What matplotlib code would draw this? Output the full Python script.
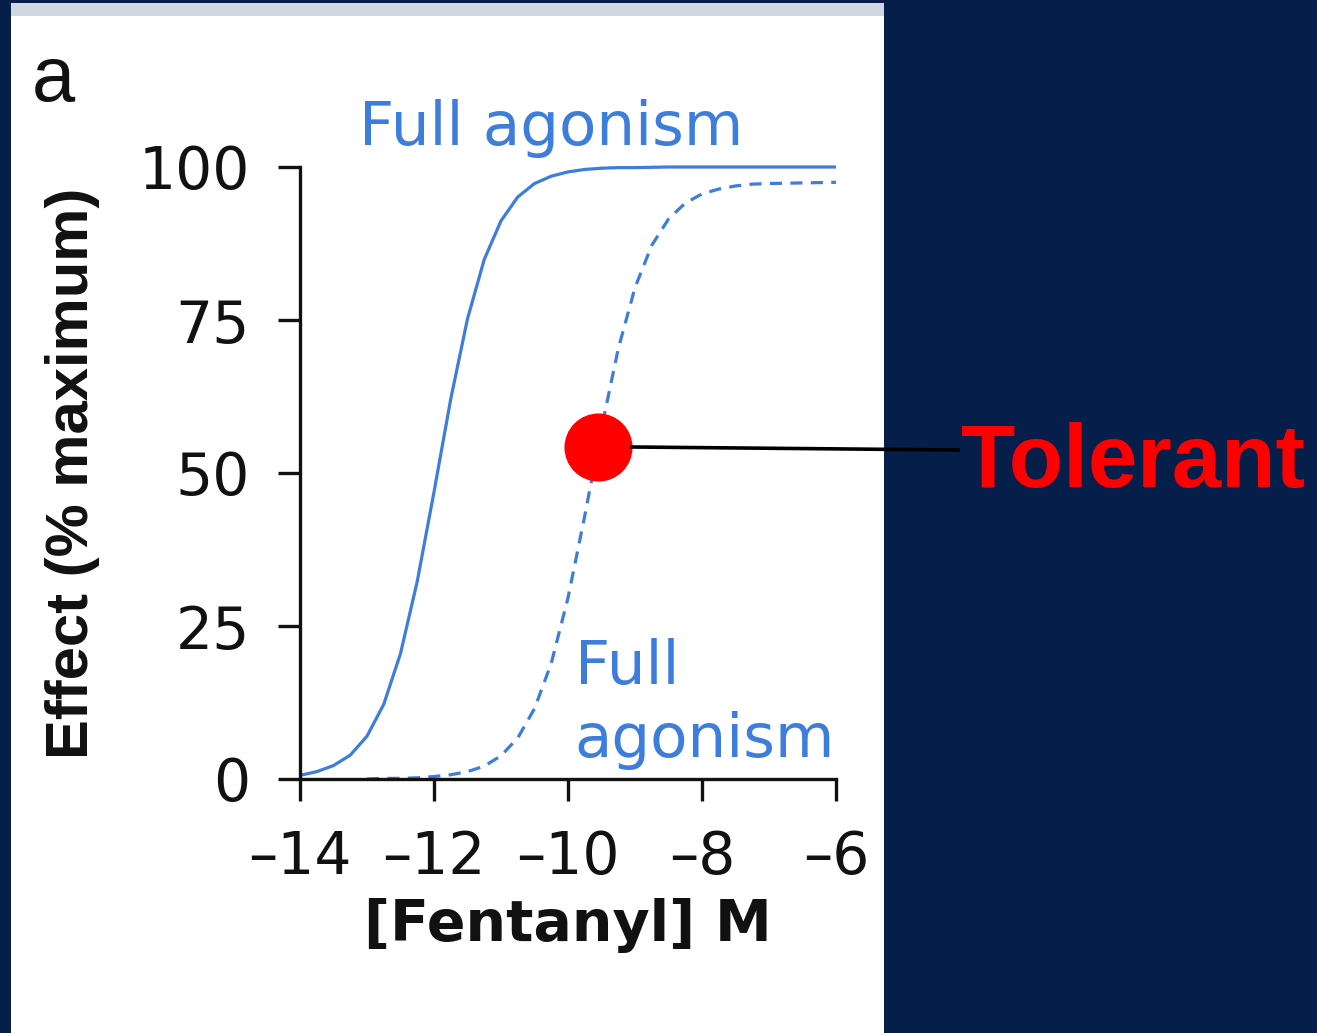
import matplotlib
matplotlib.use("Agg")
import matplotlib.pyplot as plt
from matplotlib.patches import Rectangle
from matplotlib.lines import Line2D

# Data (log10 molar concentration, % of maximum effect)
log_conc = [-14, -13.75, -13.5, -13.25, -13, -12.75, -12.5, -12.25, -12, -11.75, -11.5,
            -11.25, -11, -10.75, -10.5, -10.25, -10, -9.75, -9.5, -9.25, -9, -8.5, -8,
            -7.5, -7, -6.5, -6]
full_effect = [0.6, 1.2, 2.2, 3.9, 7.0, 12.2, 20.5, 32.3, 46.9, 62.1, 75.2,
               84.9, 91.2, 95.1, 97.3, 98.5, 99.2, 99.6, 99.8, 99.9, 99.9, 100, 100,
               100, 100, 100, 100]

log_conc_tol = [-13, -12.75, -12.5, -12.25, -12, -11.75, -11.5, -11.25, -11, -10.75, -10.5,
                -10.25, -10, -9.75, -9.5, -9.25, -9, -8.75, -8.5, -8.25, -8, -7.75, -7.5,
                -7.25, -7, -6.5, -6]
tol_effect = [0.0, 0.1, 0.1, 0.2, 0.4, 0.7, 1.2, 2.1, 3.8, 6.7, 11.5,
              18.9, 29.6, 43.0, 57.3, 70.3, 80.3, 87.2, 91.5, 94.1, 95.6, 96.4, 96.9,
              97.2, 97.3, 97.4, 97.5]

tolerant_point = (-9.55, 54.2)

xticks = [-14, -12, -10, -8, -6]
xticklabels = ["\u201314", "\u201312", "\u201310", "\u20138", "\u20136"]
yticks = [0, 25, 50, 75, 100]
yticklabels = ["0", "25", "50", "75", "100"]

NAVY = "#061f4a"
BLUE = "#3d7ddb"
INK = "#111111"

W, H = 1317, 1033
fig = plt.figure(figsize=(W / 100, H / 100), dpi=100)
fig.patch.set_facecolor(NAVY)

# white panel and grey band
fig.patches.append(Rectangle((11 / W, 0), (884 - 11) / W, 1 - 3 / H, transform=fig.transFigure,
                             facecolor="white", edgecolor="none", zorder=-2))
fig.patches.append(Rectangle((11 / W, 1 - 16 / H), (884 - 11) / W, 13 / H, transform=fig.transFigure,
                             facecolor="#d0d6e2", edgecolor="none", zorder=-1))

ax = fig.add_axes([300 / W, 1 - 779 / H, (836 - 300) / W, (779 - 167) / H])
ax.set_zorder(3)
ax.set_facecolor("none")
ax.set_xlim(-14, -6)
ax.set_ylim(0, 100)

ax.plot(log_conc, full_effect, color=BLUE, lw=2.3, clip_on=False, solid_capstyle="butt")
ax.plot(log_conc_tol, tol_effect, color=BLUE, lw=2.3, clip_on=False, linestyle=(0, (3.8, 2.6)))

for s in ["top", "right"]:
    ax.spines[s].set_visible(False)
for s in ["left", "bottom"]:
    ax.spines[s].set_linewidth(2.4)
    ax.spines[s].set_color(INK)

ax.set_xticks(xticks)
ax.set_xticklabels(xticklabels)
ax.set_yticks(yticks)
ax.set_yticklabels(yticklabels)
ax.tick_params(axis="both", direction="out", length=16, width=2.4, color=INK,
               labelsize=42, labelcolor=INK)
ax.tick_params(axis="x", pad=20)
ax.tick_params(axis="y", pad=20)
for lab in ax.get_xticklabels() + ax.get_yticklabels():
    lab.set_family("DejaVu Sans")

ax.set_xlabel("[Fentanyl] M", fontsize=41, fontweight="bold", family="DejaVu Sans",
              color=INK, va="top")
ax.xaxis.set_label_coords(0.5, (779 - 898) / 612)
ax.set_ylabel("Effect (% maximum)", fontsize=43, fontweight="bold", family="Liberation Sans",
              color=INK)
ax.yaxis.set_label_coords((100 - 300) / 536, 0.5)

ax.text(-13.12, 103.6, "Full agonism", fontsize=44, color=BLUE, family="DejaVu Sans",
        ha="left", va="baseline", clip_on=False)
ax.text(-9.9, 15.6, "Full", fontsize=44, color=BLUE, family="DejaVu Sans",
        ha="left", va="baseline", clip_on=False)
ax.text(-9.9, 3.6, "agonism", fontsize=44, color=BLUE, family="DejaVu Sans",
        ha="left", va="baseline", clip_on=False)

# tolerant point and connector
ax.plot([tolerant_point[0]], [tolerant_point[1]], "o", color="#ff0000", markersize=48,
        clip_on=False, zorder=5)
line = Line2D([632 / W, 958 / W], [1 - 447 / H, 1 - 450 / H], transform=fig.transFigure,
              color="black", lw=2.6, zorder=4)
fig.lines.append(line)

fig.text(961 / W, 1 - 487 / H, "Tolerant", fontsize=64, fontweight="bold", color="#ff0000",
         family="Liberation Sans", ha="left", va="baseline")

fig.text(53 / W, 1 - 101 / H, "a", fontsize=56, color=INK, family="Liberation Sans",
         ha="center", va="baseline")

fig.savefig("out.png", dpi=100, facecolor=fig.get_facecolor())
